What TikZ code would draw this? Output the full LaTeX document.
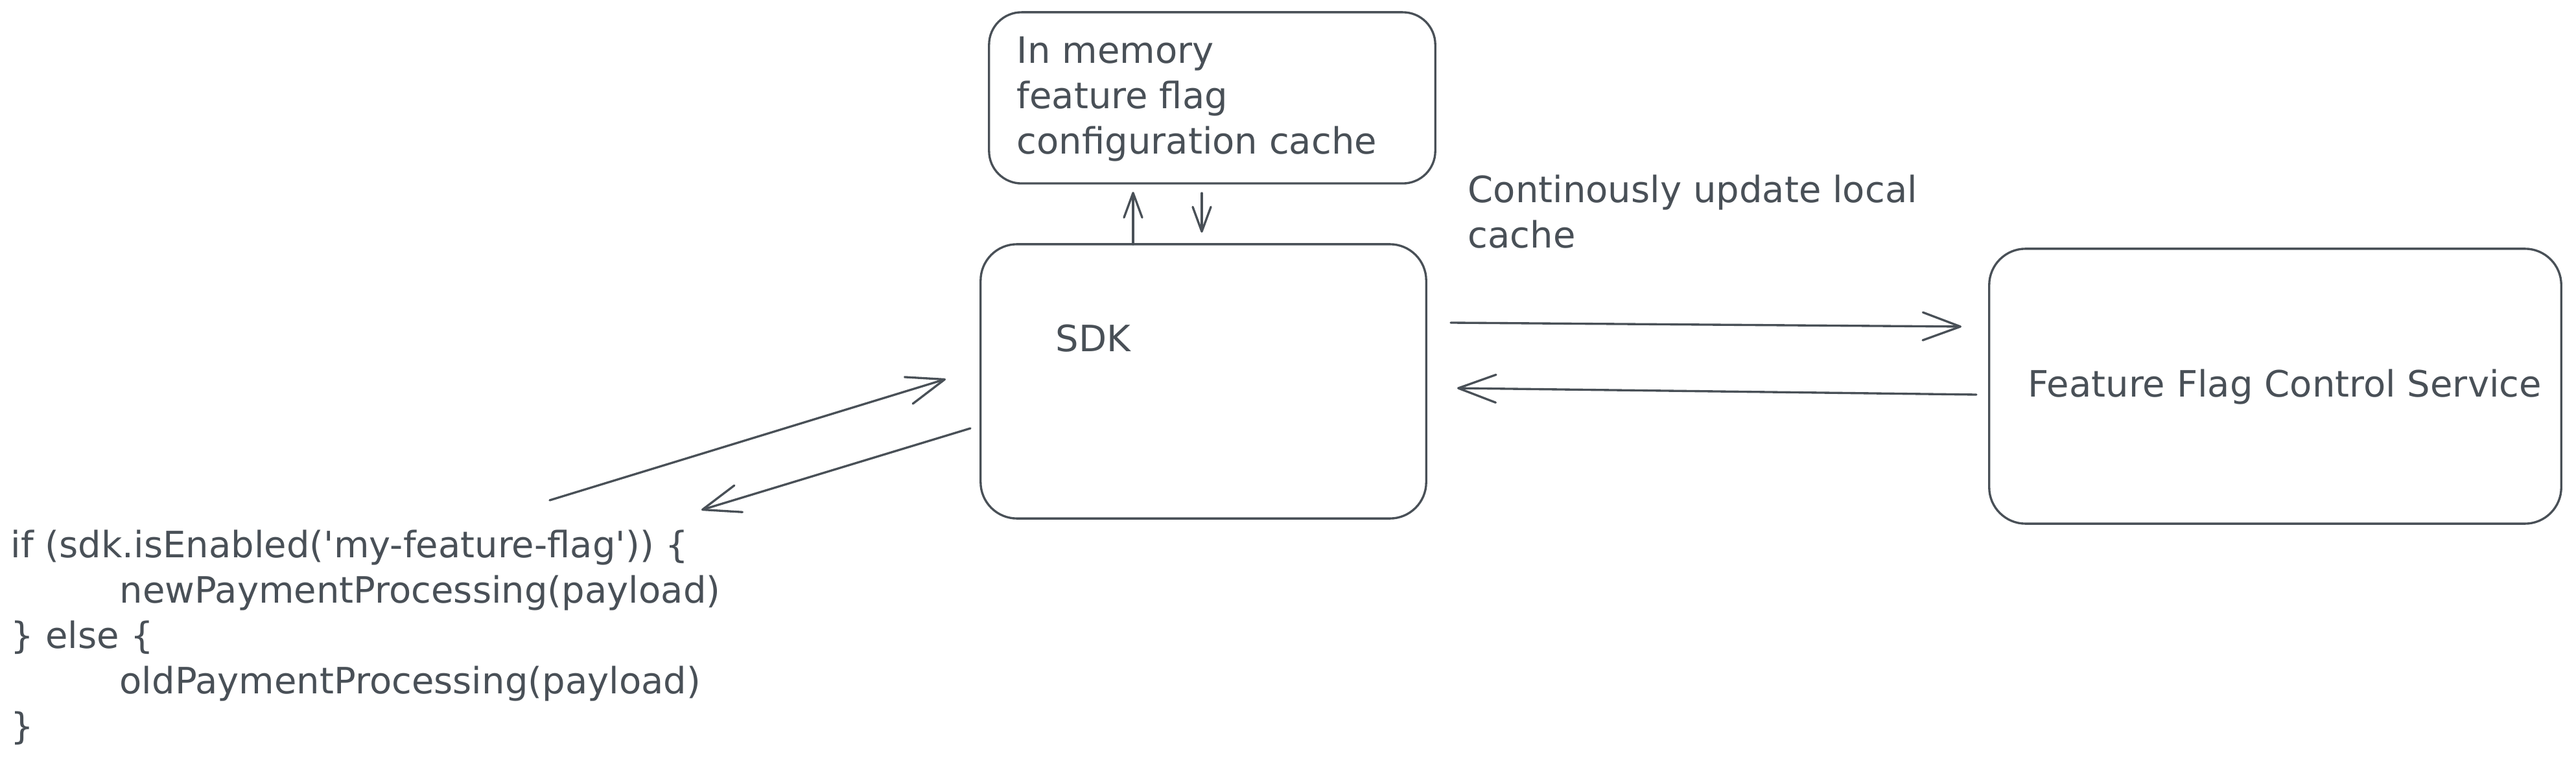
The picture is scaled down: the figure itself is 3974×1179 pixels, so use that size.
\documentclass[tikz,border=0pt]{standalone}
\usepackage{fontspec}
\setmainfont{DejaVu Sans}[Ligatures=TeXOff]
\usetikzlibrary{arrows.meta}
\definecolor{ink}{HTML}{495057}
\begin{document}
\begin{tikzpicture}[x=0.01cm,y=-0.01cm,
  boxst/.style={draw=ink, line width=0.95pt, rounded corners=0.56cm, inner sep=0pt},
  lbl/.style={anchor=base west, inner sep=0pt, text=ink, font=\fontsize{15.93}{19.92}\selectfont},
  conn/.style={draw=ink, line width=0.95pt, line cap=round},
  arrbig/.style={conn, -{Straight Barb[length=0.58cm,width=0.43cm,round]}},
  arrsmall/.style={conn, -{Straight Barb[length=0.38cm,width=0.28cm,round]}}
]
\fill[white] (0,0) rectangle (3974,1179);
\useasboundingbox (0,0) rectangle (3974,1179);

% boxes
\node[boxst, rounded corners=0.5cm, minimum width=6.88cm, minimum height=2.64cm] (cache) at (1870,151) {};
\node[boxst, minimum width=6.87cm, minimum height=4.23cm] (sdk) at (1856.5,588.5) {};
\node[boxst, minimum width=8.82cm, minimum height=4.24cm] (svc) at (3510,596) {};

% labels
\node[lbl] (cacheA) at (1568,98) {In memory};
\node[lbl] (cacheB) at (1568,168) {feature flag};
\node[lbl] (cacheC) at (1568,238) {configuration cache};
\node[lbl] (sdklbl) at (1628,542) {SDK};
\node[lbl] (updA) at (2264,313) {Continously update local};
\node[lbl] (updB) at (2264,383) {cache};
\node[lbl] (svclbl) at (3128,612) {Feature Flag Control Service};

\node[lbl] (codeA) at (16,860) {if (sdk.isEnabled('my-feature-flag')) \{};
\node[lbl] (codeB) at (184,930) {newPaymentProcessing(payload)};
\node[lbl] (codeC) at (16,1000) {\} else \{};
\node[lbl] (codeD) at (184,1070) {oldPaymentProcessing(payload)};
\node[lbl] (codeE) at (16,1140) {\}};

% connector end points
\coordinate (upS) at (1748,377);
\coordinate (upE) at (1748,296);
\coordinate (dnS) at (1854,298);
\coordinate (dnE) at (1854,359);
\coordinate (rtS) at (2238,498);
\coordinate (rtE) at (3026,504);
\coordinate (ltS) at (3049,609);
\coordinate (ltE) at (2248,599);
\coordinate (inS) at (848,772);
\coordinate (inE) at (1459,585);
\coordinate (outS) at (1497,661);
\coordinate (outE) at (1082,787);

% connectors
\draw[arrsmall] (upS) -- (upE);
\draw[arrsmall] (dnS) -- (dnE);
\draw[arrbig] (rtS) -- (rtE);
\draw[arrbig] (ltS) -- (ltE);
\draw[arrbig] (inS) -- (inE);
\draw[arrbig] (outS) -- (outE);
\end{tikzpicture}
\end{document}
